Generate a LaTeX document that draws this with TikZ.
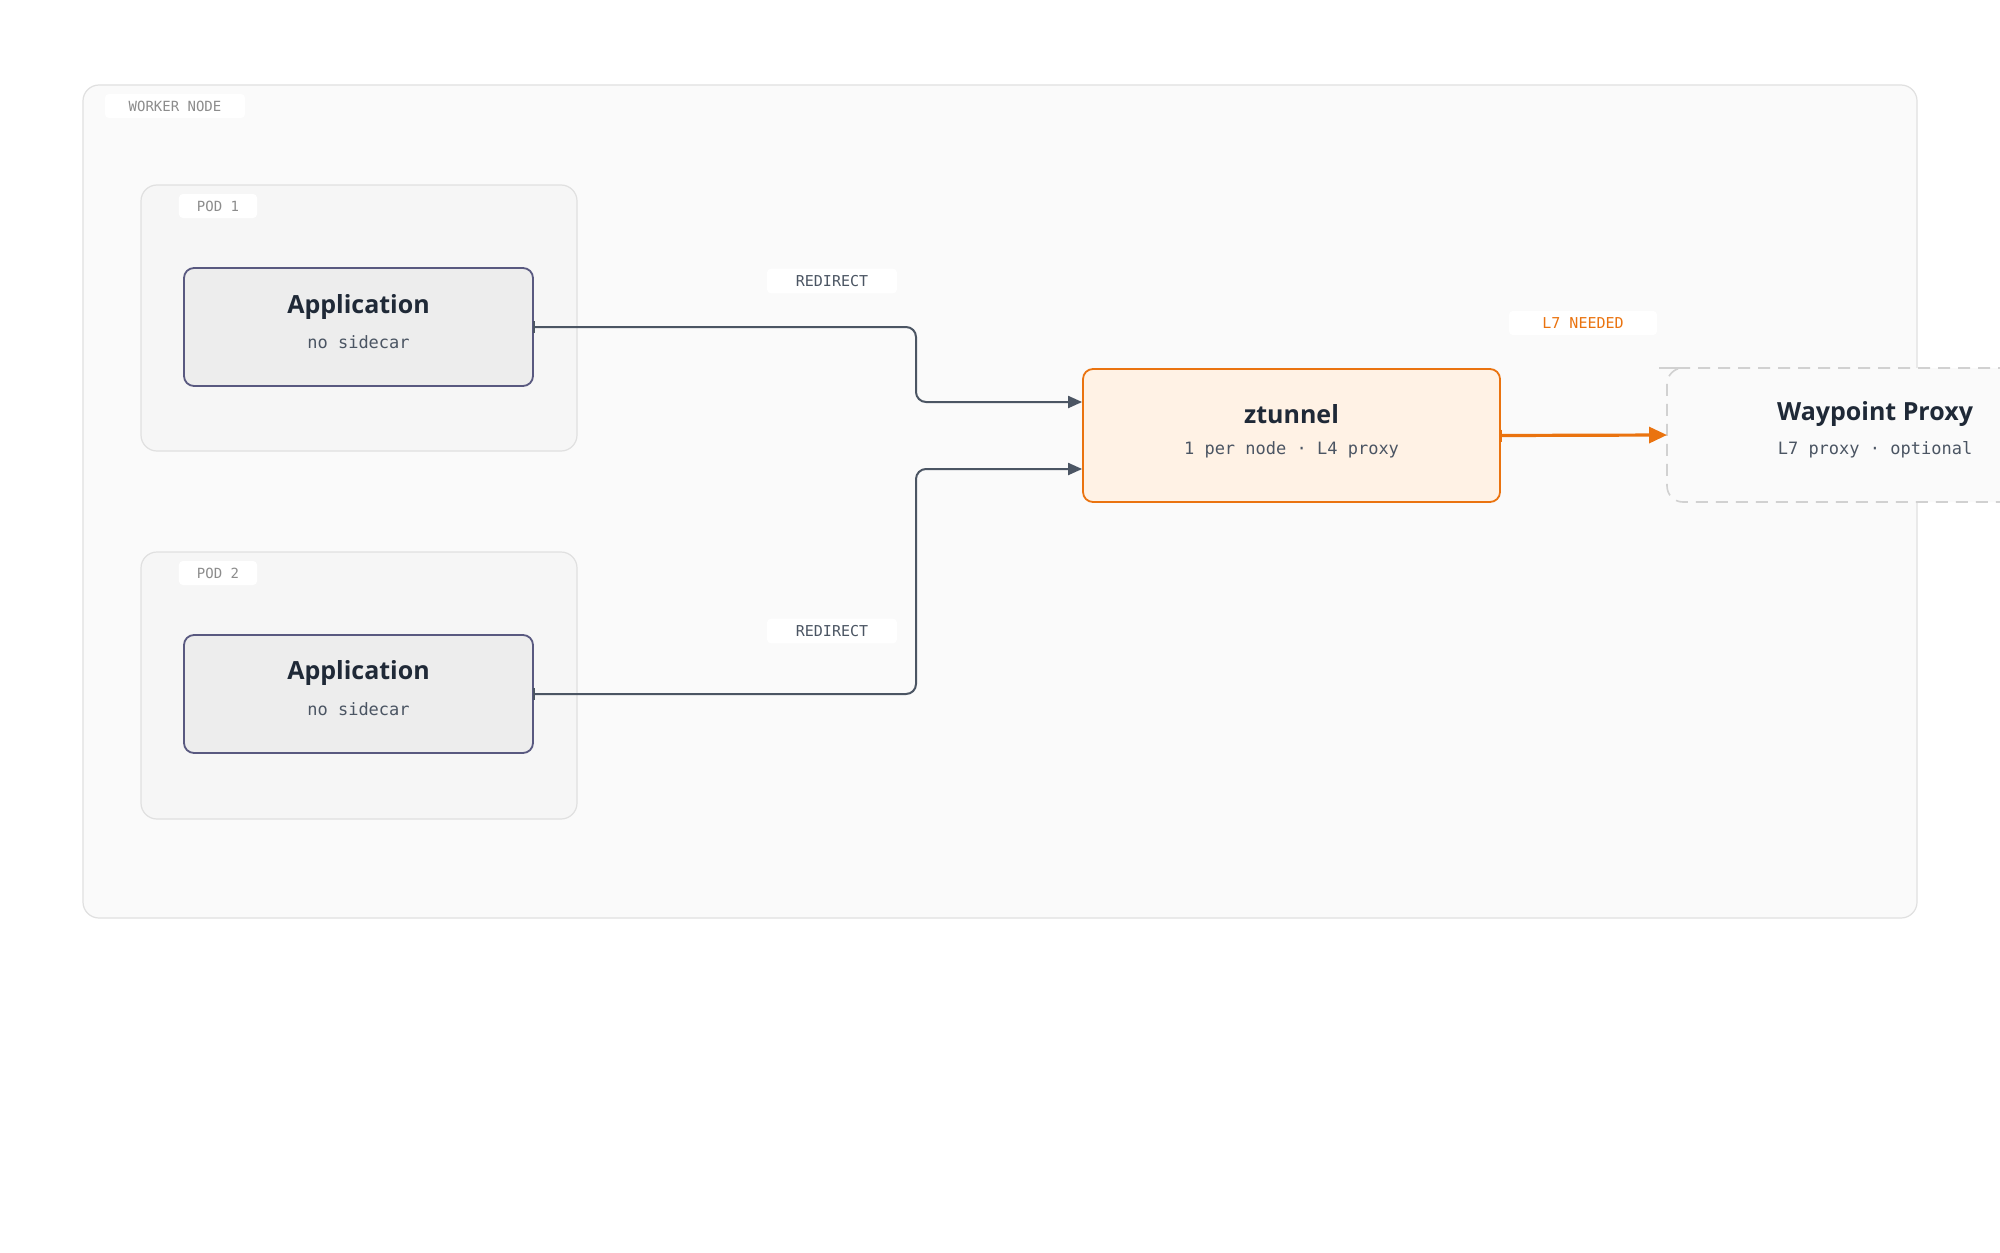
\documentclass[tikz,border=0pt]{standalone}
\usepackage{fontspec}
\setmainfont{Open Sans}
\newfontfamily\monof{DejaVu Sans Mono}
\usetikzlibrary{arrows.meta}
\definecolor{ink}{HTML}{1F2937}
\definecolor{sub}{HTML}{4B5563}
\definecolor{orng}{HTML}{EA730F}
\definecolor{edge}{HTML}{4B5563}
\begin{document}
\begin{tikzpicture}[x=0.5pt,y=-0.5pt,
 grp/.style={draw=black!12,fill=black!3.5,rounded corners=8pt,line width=0.6pt},
 tag/.style={fill=white,rounded corners=2pt,font=\monof\fontsize{7}{8}\selectfont,text=black!45,minimum height=12pt,inner xsep=9pt},
 elab/.style={fill=white,rounded corners=2pt,font=\monof\fontsize{7.5}{9}\selectfont,text=sub,minimum height=12pt,inner xsep=8pt},
 app/.style={draw=black!50!blue!30!gray,fill=black!7,rounded corners=5pt,line width=0.9pt},
 ttl/.style={font=\fontsize{12.5}{15}\selectfont\bfseries,text=ink},
 st/.style={font=\monof\fontsize{8.5}{10}\selectfont,text=sub},
 conn/.style={draw=edge,line width=1pt,rounded corners=5pt,-{Triangle[length=7pt,width=6pt]}}]
\useasboundingbox (0,0) rectangle (2000,1252);
\fill[white] (0,0) rectangle (2000,1252);
\draw[grp,fill=black!2] (83,85) rectangle (1917,918);
\node[tag,minimum width=70pt] (wl) at (175,106) {WORKER NODE};
\draw[grp] (141,185) rectangle (577,451);
\node[tag,minimum width=38pt] (p1) at (218,206) {POD 1};
\draw[grp] (141,552) rectangle (577,819);
\node[tag,minimum width=38pt] (p2) at (218,573) {POD 2};
\node[app,minimum width=174.5pt,minimum height=59pt] (a1) at (358.5,327) {};
\node[ttl] at (358.5,307) {Application};
\node[st] at (358.5,342) {no sidecar};
\node[app,minimum width=174.5pt,minimum height=59pt] (a2) at (358.5,694) {};
\node[ttl] at (358.5,673) {Application};
\node[st] at (358.5,709) {no sidecar};
\node[draw=orng,fill=orange!10,rounded corners=5pt,line width=0.9pt,minimum width=208.5pt,minimum height=66.5pt] (zt) at (1291.5,435.5) {};
\node[ttl] at (1291.5,414) {ztunnel};
\node[st] at (1291.5,450) {1 per node · L4 proxy};
\draw[draw=black!18,fill=black!2,dashed,dash pattern=on 6pt off 4pt,rounded corners=8pt,line width=0.8pt] (2010,368) -- (1675,368) -- (1667,368) -- (1667,502) -- (2010,502);
\coordinate (wp) at (1667,435);
\node[ttl] at (1875,414) {Waypoint Proxy};
\node[st] at (1875,450) {L7 proxy · optional};
\draw[conn] (a1.east) -- (916,327) -- (916,402) -- (zt.west |- 0,402);
\draw[conn] (a2.east) -- (916,694) -- (916,469) -- (zt.west |- 0,469);
\draw[edge,line width=1.2pt] (a1.east)++(0,-6) -- ++(0,12);
\draw[edge,line width=1.2pt] (a2.east)++(0,-6) -- ++(0,12);
\draw[orng,line width=1.6pt,-{Triangle[length=9pt,width=8pt]}] (zt.east) -- (wp);
\draw[orng,line width=1.4pt] (zt.east)++(0,-6) -- ++(0,12);
\node[elab,minimum width=65pt] (r1) at (832,281) {REDIRECT};
\node[elab,minimum width=65pt] (r2) at (832,631) {REDIRECT};
\node[elab,text=orng,minimum width=74pt] (l7) at (1583,323) {L7 NEEDED};
\end{tikzpicture}
\end{document}
